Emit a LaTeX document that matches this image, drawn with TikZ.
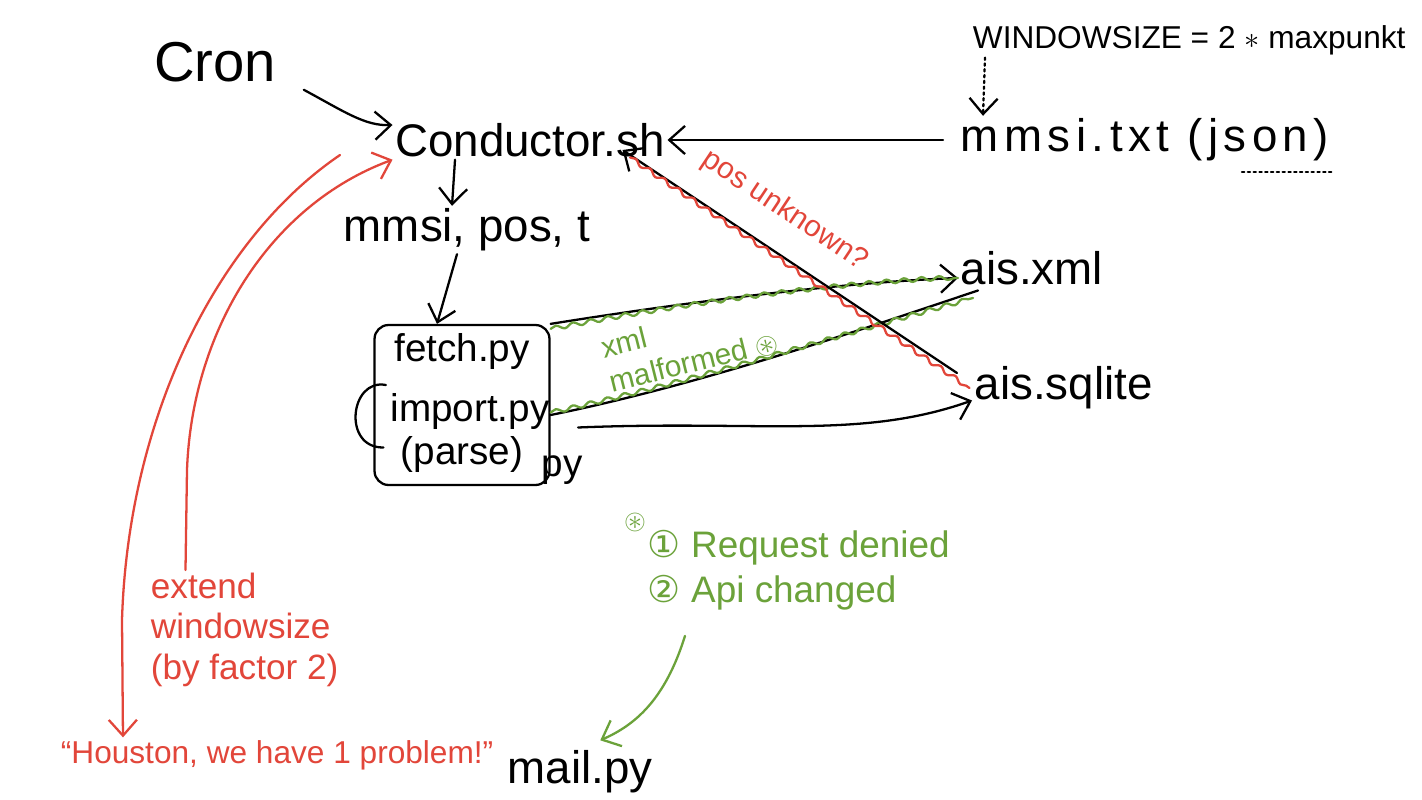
\documentclass[tikz,border=0pt]{standalone}
\usepackage{amssymb}
\usepackage{fontspec}
\setmainfont{Liberation Sans}
\newfontfamily\symfont{DejaVu Sans}
\usetikzlibrary{arrows.meta,positioning,calc,decorations.pathmorphing}
\definecolor{penred}{HTML}{E2463A}
\definecolor{pengreen}{HTML}{6BA23A}

\begin{document}
\begin{tikzpicture}[x=0.02cm,y=-0.02cm,>={Straight Barb[length=9pt,width=16pt]},
  line width=1.3pt,line cap=round,
  hand/.style={inner sep=1pt,font=\fontsize{26}{30}\selectfont},
  boxhand/.style={inner sep=1pt,font=\fontsize{22}{26}\selectfont},
  redhand/.style={inner sep=1pt,text=penred,font=\fontsize{20}{23}\selectfont},
  greenhand/.style={inner sep=1pt,text=pengreen,font=\fontsize{21}{26}\selectfont},
  wobble/.style={decorate,decoration={snake,amplitude=1.2pt,segment length=10pt}},
  procbox/.style={draw,rounded corners=8pt,minimum width=3.5cm,minimum height=3.2cm}]
\path[fill=white] (0,0) rectangle (1422,800);
\useasboundingbox (0,0) rectangle (1422,800);

% black parts
\node[hand,font=\fontsize{32}{36}\selectfont] (cron) at (215,62) {Cron};
\node[hand] (cond) at (530,140) {Conductor.sh};
\node[hand,font=\fontsize{18}{22}\selectfont,anchor=west] (wsize) at (970,40) {WINDOWSIZE = 2 $\ast$ maxpunkt};
\node[hand,font=\fontsize{26}{30}\selectfont\addfontfeatures{LetterSpace=12},anchor=west] (mmsitxt) at (958,140) {mmsi.txt (json)};
\node[hand] (params) at (467,230) {mmsi, pos, t};
\node[procbox] (proc) at (462,405) {};
\node[boxhand,below=4pt of proc.north] (fetch) {fetch.py};
\node[boxhand] (import) at (470,412) {import.py};
\node[boxhand] (parse) at (462,455) {(parse)};
\node[boxhand] (pyend) at (562,470) {py};
\node[hand,anchor=west] (aisxml) at (958,268) {ais.xml};
\node[hand,anchor=west] (aissql) at (972,388) {ais.sqlite};
\node[hand] (mail) at (580,772) {mail.py};

% red notes
\node[redhand,anchor=north west,align=left] (extend) at (148,570) {extend\\windowsize\\(by factor 2)};
\node[redhand,font=\fontsize{18}{21}\selectfont,anchor=west] (houston) at (58,755) {``Houston, we have 1 problem!''};

% green notes
\node[greenhand,font=\fontsize{17}{20}\selectfont,rotate=14,align=left] (malformed) at (690,345) {xml\\malformed $\circledast$};
\node[greenhand,font=\fontsize{16}{18}\selectfont] (star) at (635,522) {$\circledast$};
\node[greenhand,anchor=north west,align=left] (note) at (645,527) {{\symfont ①} Request denied\\{\symfont ②} Api changed};

% connectors
\draw[->] ([xshift=0.5cm,yshift=-0.1cm]cron.south east) .. controls (345,112) and (365,126) .. ([yshift=0.3cm]cond.west);
\draw[->] ([xshift=-0.3cm]mmsitxt.west) -- (cond.east);
\draw[->,dotted] ([xshift=0.3cm]wsize.south west) -- ([xshift=0.5cm]mmsitxt.north west);
\draw[dotted] ([xshift=-1.8cm,yshift=-0.15cm]mmsitxt.south east) -- ([yshift=-0.15cm]mmsitxt.south east);
\draw[->] ([xshift=-1.5cm]cond.south) -- ([xshift=-0.3cm]params.north);
\draw[->] ([xshift=-0.2cm]params.south) -- ([xshift=-0.5cm]proc.north);
\draw ([xshift=0.25cm,yshift=0.4cm]proc.west) .. controls (350,378) and (342,448) .. ([xshift=0.2cm,yshift=-0.85cm]proc.west);

\draw[->] (proc.north east) .. controls (700,300) and (850,282) .. ([yshift=-0.2cm]aisxml.west);
\draw[pengreen,wobble] ([yshift=-0.1cm]proc.north east) .. controls (700,300) and (850,282) .. ([yshift=-0.2cm]aisxml.west);
\draw ([yshift=-0.2cm]proc.east) .. controls (700,385) and (860,330) .. ([xshift=0.4cm,yshift=-0.45cm]aisxml.west);
\draw[pengreen,wobble] ([yshift=-0.15cm]proc.east) .. controls (700,380) and (860,328) .. ([xshift=0.3cm,yshift=-0.6cm]aisxml.west);
\draw[->] ([xshift=0.55cm,yshift=-0.45cm]proc.east) .. controls (760,420) and (860,440) .. ([yshift=-0.25cm]aissql.west);

\draw[<-] ([xshift=-0.9cm,yshift=-0.2cm]cond.east) -- ([xshift=-0.3cm,yshift=0.3cm]aissql.west)
  node[pos=0.42,sloped,above=13pt,redhand,font=\fontsize{17}{20}\selectfont] {pos unknown?};
\draw[penred,wobble] ([xshift=-0.75cm,yshift=-0.35cm]cond.east) -- ([xshift=-0.05cm]aissql.west);

\draw[penred,->] ([xshift=-1.05cm,yshift=-0.3cm]cond.west) .. controls (215,240) and (128,420) .. (122,620) -- ([xshift=1.3cm]houston.north west);
\draw[penred,->] ([xshift=0.75cm]extend.north west) -- (187,470) .. controls (192,330) and (270,205) .. (cond.south west);
\draw[pengreen,->] ([xshift=0.8cm,yshift=-0.45cm]note.south west) .. controls (665,700) and (635,725) .. ([xshift=-1.1cm,yshift=0.15cm]mail.north east);
\end{tikzpicture}
\end{document}
